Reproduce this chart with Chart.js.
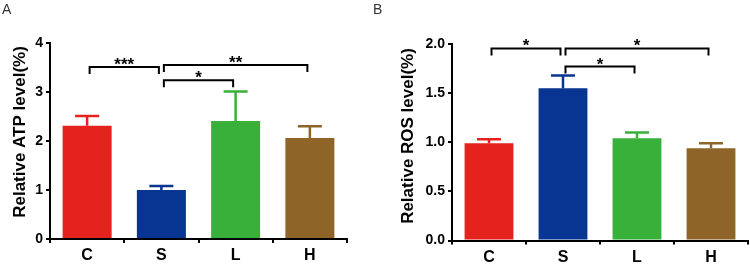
<!DOCTYPE html>
<html>
<head>
<meta charset="utf-8">
<script src="https://cdn.jsdelivr.net/npm/chart.js@4"></script>
<style>
  html, body { margin: 0; padding: 0; background: #fff; }
  #wrap { position: relative; width: 750px; height: 264px; }
  .panel { position: absolute; top: 0; width: 375px; height: 264px; }
  .tag { position: absolute; top: 1px; font: 14px "Liberation Sans", Arial, sans-serif; color: #333; }
</style>
</head>
<body>
<div id="wrap">
  <div class="panel" style="left:0"><canvas id="atpChart" width="375" height="264"></canvas></div>
  <div class="panel" style="left:375px"><canvas id="rosChart" width="375" height="264"></canvas></div>
  <div class="tag" style="left:2px">A</div>
  <div class="tag" style="left:373px">B</div>
</div>
<script>
const categories = ['C', 'S', 'L', 'H'];
const barColors  = ['#e4221e', '#083492', '#39b03a', '#8e6428'];

const atpMeans  = [2.31, 1.00, 2.41, 2.06];
const atpErrors = [0.20, 0.08, 0.60, 0.24];
const rosMeans  = [0.99, 1.55, 1.04, 0.94];
const rosErrors = [0.04, 0.13, 0.06, 0.05];

// significance brackets: [from, to, y-level, stars]
const atpBrackets = [[0, 1, 3.51, '***'], [1, 3, 3.55, '**'], [1, 2, 3.24, '*']];
const rosBrackets = [[0, 1, 1.955, '*'], [1, 3, 1.955, '*'], [1, 2, 1.77, '*']];

const FONT = '"Liberation Sans", Arial, sans-serif';

const extrasPlugin = {
  id: 'extras',
  afterDatasetsDraw(chart, args, opts) {
    const ctx  = chart.ctx;
    const ys   = chart.scales.y;
    const bars = chart.getDatasetMeta(0).data;

    // error bars, upper half only
    ctx.save();
    ctx.lineWidth = 2.5;
    opts.errors.forEach((err, i) => {
      const x   = bars[i].x;
      const y0  = ys.getPixelForValue(opts.means[i]);
      const y1  = ys.getPixelForValue(opts.means[i] + err);
      ctx.strokeStyle = barColors[i];
      ctx.beginPath();
      ctx.moveTo(x, y0);
      ctx.lineTo(x, y1);
      ctx.moveTo(x - 12, y1);
      ctx.lineTo(x + 12, y1);
      ctx.stroke();
    });
    ctx.restore();

    // brackets
    ctx.save();
    ctx.strokeStyle = '#000';
    ctx.fillStyle = '#000';
    ctx.lineWidth = 2;
    ctx.font = 'bold 17px ' + FONT;
    ctx.textAlign = 'center';
    ctx.textBaseline = 'alphabetic';
    opts.brackets.forEach(([a, b, v, stars]) => {
      const xa = bars[a].x + 2.5;
      const xb = bars[b].x - 2.5;
      const y  = ys.getPixelForValue(v);
      ctx.beginPath();
      ctx.moveTo(xa, y + 7);
      ctx.lineTo(xa, y);
      ctx.lineTo(xb, y);
      ctx.lineTo(xb, y + 7);
      ctx.stroke();
      ctx.fillText(stars, (xa + xb) / 2, y + 3);
    });
    ctx.restore();

    // y axis title
    ctx.save();
    ctx.font = 'bold 17px ' + FONT;
    ctx.fillStyle = '#000';
    ctx.textAlign = 'center';
    ctx.textBaseline = 'middle';
    ctx.translate(opts.titleX, opts.titleY);
    ctx.rotate(-Math.PI / 2);
    ctx.fillText(opts.title, 0, 0);
    ctx.restore();
  }
};

function makeChart(id, means, errors, brackets, yMax, yStep, decimals, pad, yWidth, xHeight, title, titleX, titleY) {
  return new Chart(document.getElementById(id), {
    type: 'bar',
    data: {
      labels: categories,
      datasets: [{
        data: means,
        backgroundColor: barColors,
        borderWidth: 0,
        barPercentage: 0.66,
        categoryPercentage: 1
      }]
    },
    options: {
      responsive: false,
      animation: false,
      layout: { padding: pad },
      plugins: {
        legend: { display: false },
        tooltip: { enabled: false },
        extras: { means, errors, brackets, title, titleX, titleY }
      },
      scales: {
        x: {
          grid: { display: true, drawOnChartArea: false, drawTicks: true, tickLength: 4, color: '#000', lineWidth: 2 },
          border: { display: true, color: '#000', width: 2 },
          ticks: { color: '#000', font: { family: FONT, size: 16, weight: 'bold' }, padding: 3 },
          afterFit: s => { s.height = xHeight; }
        },
        y: {
          min: 0,
          max: yMax,
          grid: { display: true, drawOnChartArea: false, drawTicks: true, tickLength: 4, color: '#000', lineWidth: 2 },
          border: { display: true, color: '#000', width: 2 },
          ticks: {
            stepSize: yStep,
            color: '#000',
            padding: 3,
            font: { family: FONT, size: 14, weight: 'bold' },
            callback: v => v.toFixed(decimals)
          },
          afterFit: s => { s.width = yWidth; }
        }
      }
    },
    plugins: [extrasPlugin]
  });
}

makeChart('atpChart', atpMeans, atpErrors, atpBrackets, 4, 1, 0,
  { top: 43, right: 28, left: 0, bottom: 0 }, 50, 25,
  'Relative ATP level(%)', 20, 132);

makeChart('rosChart', rosMeans, rosErrors, rosBrackets, 2, 0.5, 1,
  { top: 44, right: 2, left: 0, bottom: 0 }, 77, 23.5,
  'Relative ROS level(%)', 33, 136);
</script>
</body>
</html>
